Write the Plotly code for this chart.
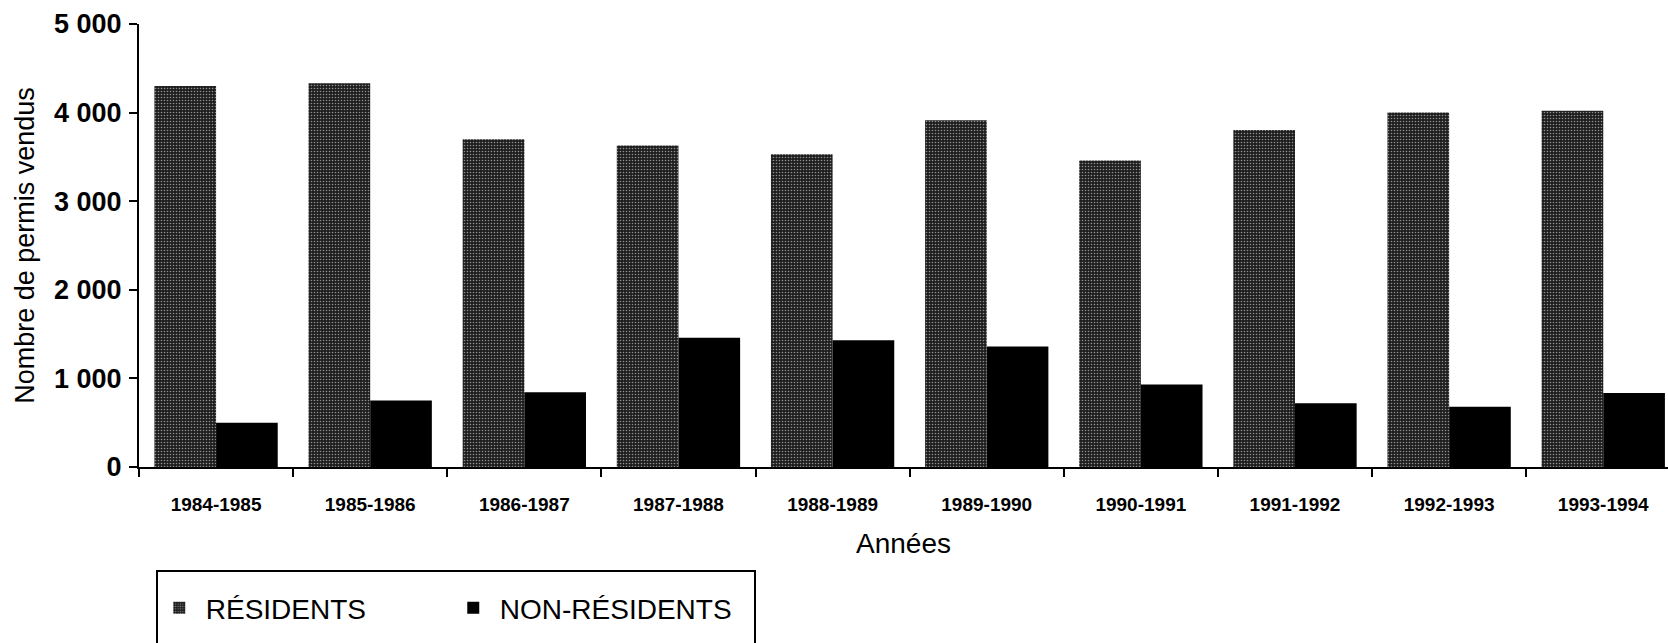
import plotly.graph_objects as go

years = ["1984-1985", "1985-1986", "1986-1987", "1987-1988", "1988-1989",
         "1989-1990", "1990-1991", "1991-1992", "1992-1993", "1993-1994"]
residents = [4300, 4330, 3700, 3630, 3530, 3915, 3460, 3805, 4000, 4020]
non_residents = [500, 750, 845, 1460, 1430, 1360, 930, 720, 680, 835]

FONT = "Liberation Sans, Arial, sans-serif"

W, H = 1668, 643
L, T, B = 139, 24, 176
PW, PH = W - L, H - T - B

fig = go.Figure()
fig.add_trace(go.Bar(
    x=years, y=residents, name="RÉSIDENTS",
    marker=dict(color="#1e1e1e", line=dict(width=0),
                pattern=dict(shape=".", fgcolor="#ffffff", size=3, solidity=0.22)),
))
fig.add_trace(go.Bar(
    x=years, y=non_residents, name="NON-RÉSIDENTS",
    marker=dict(color="#000000", line=dict(width=0)),
))

fig.update_layout(
    width=W, height=H,
    margin=dict(l=L, r=0, t=T, b=B),
    paper_bgcolor="white", plot_bgcolor="white",
    barmode="group", bargap=0.2, bargroupgap=0,
    separators=", ",
    font=dict(family=FONT, color="black"),
    showlegend=True,
    legend=dict(
        orientation="h", x=0.009, xanchor="left", y=-(608 - 467) / PH, yanchor="middle",
        font=dict(family=FONT, size=28, color="black"),
        bgcolor="rgba(0,0,0,0)", borderwidth=0,
        entrywidth=236, entrywidthmode="pixels", itemwidth=43,
    ),
    shapes=[dict(type="rect", xref="paper", yref="paper",
                 x0=(157 - 139) / PW, x1=(755 - 139) / PW,
                 y0=-(571 - 467) / PH, y1=-(700 - 467) / PH,
                 line=dict(color="black", width=2), fillcolor="rgba(0,0,0,0)")],
)

fig.update_xaxes(
    range=[-0.5, 9.42],
    showline=True, linecolor="black", linewidth=2,
    ticks="outside", tickson="boundaries", ticklen=8, tickwidth=2, tickcolor="black",
    tickfont=dict(family=FONT, size=19, color="black", weight="bold"),
    ticklabelstandoff=19,
    title=dict(text="Années", font=dict(family=FONT, size=28, color="black"), standoff=20),
    showgrid=False, zeroline=False,
)
fig.update_yaxes(
    range=[0, 5000], dtick=1000, separatethousands=True,
    showline=True, linecolor="black", linewidth=2,
    ticks="outside", ticklen=8, tickwidth=2, tickcolor="black",
    tickfont=dict(family=FONT, size=27, color="black", weight="bold"),
    ticklabelstandoff=2,
    title=dict(text="Nombre de permis vendus", font=dict(family=FONT, size=27, color="black"), standoff=12),
    showgrid=False, zeroline=False,
)

fig.write_html("out.html", config={"displayModeBar": False},
               post_script="document.body.style.margin='0';document.body.style.overflow='hidden';")
